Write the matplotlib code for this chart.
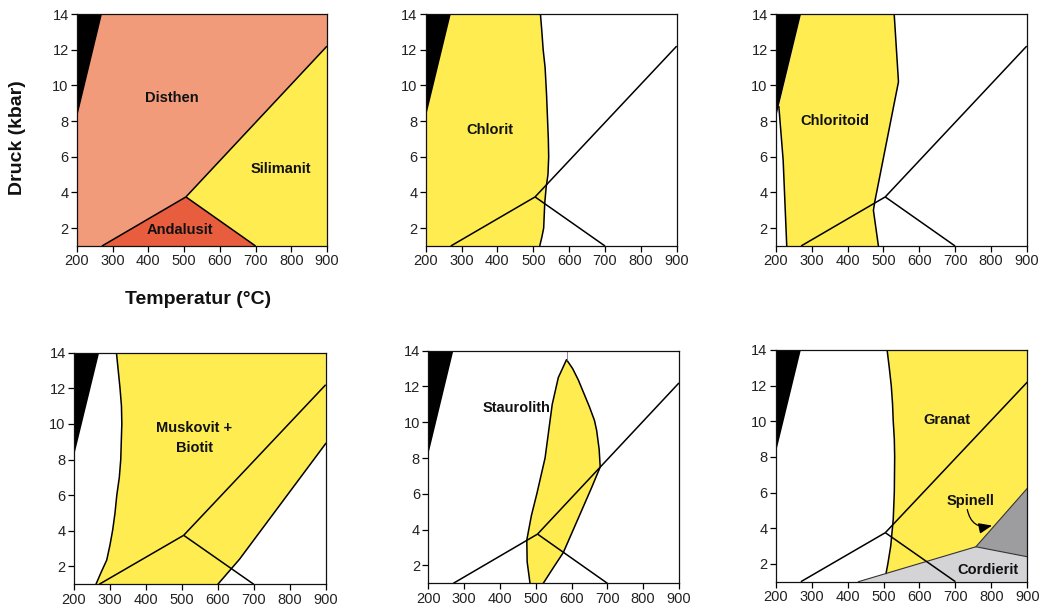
import matplotlib
matplotlib.use("Agg")
import matplotlib.pyplot as plt

plt.rcParams['font.family'] = ['Liberation Sans', 'DejaVu Sans']

# Axis ranges and ticks
T_RANGE = (200, 900)
P_RANGE = (1, 14)
T_TICKS = [200, 300, 400, 500, 600, 700, 800, 900]
P_TICKS = [2, 4, 6, 8, 10, 12, 14]

# Al2SiO5 triple point and reaction lines (T in °C, P in kbar)
AND_KY_T, AND_KY_P = [270, 505], [1.0, 3.75]
AND_SIL_T, AND_SIL_P = [505, 700], [3.75, 1.0]
KY_SIL_T, KY_SIL_P = [505, 900], [3.75, 12.2]

# Black field at low T / high P
BLACK_T = [200, 270, 200]
BLACK_P = [14, 14, 8.2]

# Panel 1: aluminosilicate fields
ANDALUSIT_T = [270, 505, 700]
ANDALUSIT_P = [1.0, 3.75, 1.0]
SILIMANIT_T = [505, 900, 900, 700]
SILIMANIT_P = [3.75, 12.2, 1.0, 1.0]

# Panel 2: chlorite upper stability boundary
CHLORIT_T = [520, 524, 527.6, 533, 537, 540, 542, 543, 541, 536, 532, 529, 524, 518]
CHLORIT_P = [14, 13, 12, 11, 9.5, 8, 7, 6, 5, 4.3, 3.4, 2, 1.5, 1]

# Panel 3: chloritoid field
CHLORITOID_LEFT_T = [230, 220, 208]
CHLORITOID_LEFT_P = [1, 5.8, 8.8]
CHLORITOID_RIGHT_T = [530, 542, 476, 472, 486]
CHLORITOID_RIGHT_P = [14, 10.2, 3.5, 3.0, 1]

# Panel 4: muscovite + biotite field
MUSBIO_LEFT_T = [261, 276, 291, 300, 307.6, 314, 319, 326, 330, 333, 332, 328, 318]
MUSBIO_LEFT_P = [1, 1.7, 2.36, 3.2, 4.05, 5, 6, 7, 8, 10, 11, 12, 14]
MUSBIO_RIGHT_T = [900, 660, 600]
MUSBIO_RIGHT_P = [8.9, 2.4, 1]

# Panel 5: staurolite lens
STAURO_LEFT_T = [484, 476, 475, 488, 503, 526, 546, 563, 586]
STAURO_LEFT_P = [1, 2.2, 3.42, 4.8, 6, 8, 11, 12.5, 13.5]
STAURO_RIGHT_T = [603, 619, 650, 664, 670, 677, 680, 655, 628, 577, 550, 521]
STAURO_RIGHT_P = [13.0, 12.36, 10.86, 10.1, 9.55, 8.5, 7.5, 6.3, 5.06, 2.72, 1.9, 1]
STAURO_TIP_T = [586, 586]
STAURO_TIP_P = [13.5, 14]

# Panel 6: garnet, spinel and cordierite fields
GRANAT_LEFT_T = [510, 516, 521.5, 525, 527, 530, 531, 530, 527, 520, 512, 507]
GRANAT_LEFT_P = [14, 13, 12, 11, 10, 9, 8, 6, 4.5, 3, 2, 1.47]
GRANAT_RIGHT_T = [757, 900, 900]
GRANAT_RIGHT_P = [2.96, 6.24, 14]
CORD_T = [430, 757, 900, 900]
CORD_P = [1, 2.96, 2.4, 1]
SPINELL_T = [757, 900, 900]
SPINELL_P = [2.96, 6.24, 2.4]

SALMON = '#F29B7B'
RED = '#E85D3D'
YELLOW = '#FEEC50'
LIGHTGRAY = '#D4D4D6'
DARKGRAY = '#9D9D9F'
LW = 1.1

W, H = 1042, 612
fig = plt.figure(figsize=(W / 100, H / 100), dpi=100)


def make_axes(left_px, top_px, right_px, bottom_px):
    ax = fig.add_axes([left_px / W, 1 - bottom_px / H,
                       (right_px - left_px) / W, (bottom_px - top_px) / H])
    ax.set_xlim(*T_RANGE)
    ax.set_ylim(*P_RANGE)
    ax.set_xticks(T_TICKS)
    ax.set_yticks(P_TICKS)
    ax.tick_params(direction='out', length=4, width=0.9, labelsize=10.5,
                   labelcolor='#222222', pad=2)
    for s in ax.spines.values():
        s.set_linewidth(0.9)
        s.set_color('#111111')
        s.set_zorder(6)
    return ax


def reaction_lines(ax):
    for t, p in ((AND_KY_T, AND_KY_P), (AND_SIL_T, AND_SIL_P), (KY_SIL_T, KY_SIL_P)):
        ax.plot(t, p, color='black', lw=LW, zorder=4, solid_capstyle='butt')


def black_field(ax):
    ax.fill(BLACK_T, BLACK_P, color='black', lw=0, zorder=5)


def label(ax, t, p, s):
    ax.text(t, p, s, ha='center', va='center', fontsize=10.5,
            fontweight='bold', color='#111111', zorder=7, linespacing=1.5)


# --- Panel 1: Disthen / Andalusit / Silimanit ---
ax1 = make_axes(77, 14, 327, 246)
ax1.set_facecolor(SALMON)
ax1.fill(SILIMANIT_T, SILIMANIT_P, color=YELLOW, lw=0, zorder=1)
ax1.fill(ANDALUSIT_T, ANDALUSIT_P, color=RED, lw=0, zorder=1)
reaction_lines(ax1)
black_field(ax1)
label(ax1, 465, 9.3, 'Disthen')
label(ax1, 771, 5.3, 'Silimanit')
label(ax1, 489, 1.87, 'Andalusit')

# --- Panel 2: Chlorit ---
ax2 = make_axes(425.7, 14, 676.7, 246)
ax2.fill([200, 200] + CHLORIT_T, [1, 14] + CHLORIT_P, color=YELLOW, lw=0, zorder=1)
ax2.plot(CHLORIT_T, CHLORIT_P, color='black', lw=LW, zorder=3)
reaction_lines(ax2)
black_field(ax2)
label(ax2, 380, 7.5, 'Chlorit')

# --- Panel 3: Chloritoid ---
ax3 = make_axes(776, 14, 1026.7, 246)
ax3.fill(CHLORITOID_LEFT_T + [270] + CHLORITOID_RIGHT_T,
         CHLORITOID_LEFT_P + [14] + CHLORITOID_RIGHT_P,
         color=YELLOW, lw=0, zorder=1)
ax3.plot(CHLORITOID_LEFT_T, CHLORITOID_LEFT_P, color='black', lw=LW, zorder=3)
ax3.plot(CHLORITOID_RIGHT_T, CHLORITOID_RIGHT_P, color='black', lw=LW, zorder=3)
reaction_lines(ax3)
black_field(ax3)
label(ax3, 365, 8.0, 'Chloritoid')

# --- Panel 4: Muskovit + Biotit ---
ax4 = make_axes(74, 352.7, 325.7, 584.3)
ax4.fill(MUSBIO_LEFT_T + [900] + MUSBIO_RIGHT_T,
         MUSBIO_LEFT_P + [14] + MUSBIO_RIGHT_P,
         color=YELLOW, lw=0, zorder=1)
ax4.plot(MUSBIO_LEFT_T, MUSBIO_LEFT_P, color='black', lw=LW, zorder=3)
ax4.plot(MUSBIO_RIGHT_T, MUSBIO_RIGHT_P, color='black', lw=LW, zorder=3)
reaction_lines(ax4)
black_field(ax4)
label(ax4, 534, 9.2, 'Muskovit +\nBiotit')

# --- Panel 5: Staurolith ---
ax5 = make_axes(428.3, 350.7, 679, 583.3)
ax5.fill(STAURO_LEFT_T + STAURO_RIGHT_T, STAURO_LEFT_P + STAURO_RIGHT_P,
         color=YELLOW, lw=0, zorder=1)
ax5.plot(STAURO_LEFT_T + STAURO_RIGHT_T, STAURO_LEFT_P + STAURO_RIGHT_P,
         color='black', lw=LW, zorder=3)
ax5.plot(STAURO_TIP_T, STAURO_TIP_P, color='#777777', lw=0.6, zorder=3)
reaction_lines(ax5)
black_field(ax5)
label(ax5, 447, 10.8, 'Staurolith')

# --- Panel 6: Granat / Spinell / Cordierit ---
ax6 = make_axes(775.7, 350, 1027.3, 581.7)
ax6.fill(GRANAT_LEFT_T + GRANAT_RIGHT_T, GRANAT_LEFT_P + GRANAT_RIGHT_P,
         color=YELLOW, lw=0, zorder=1)
ax6.fill(CORD_T, CORD_P, color=LIGHTGRAY, lw=0, zorder=1)
ax6.fill(SPINELL_T, SPINELL_P, color=DARKGRAY, lw=0, zorder=1)
ax6.plot(GRANAT_LEFT_T, GRANAT_LEFT_P, color='black', lw=LW, zorder=3)
ax6.plot(CORD_T[:3], CORD_P[:3], color='#333333', lw=0.8, zorder=3)
ax6.plot(SPINELL_T[:2], SPINELL_P[:2], color='#333333', lw=0.8, zorder=3)
reaction_lines(ax6)
black_field(ax6)
label(ax6, 675, 10.1, 'Granat')
label(ax6, 743, 5.55, 'Spinell')
label(ax6, 790, 1.66, 'Cordierit')
ax6.annotate('', xy=(802, 4.15), xytext=(733, 5.05),
             arrowprops=dict(arrowstyle='-|>,head_length=0.8,head_width=0.32',
                             connectionstyle='arc3,rad=0.5',
                             color='black', lw=0.9, shrinkA=0, shrinkB=0),
             zorder=7)

# Axis titles (first panel only)
fig.text(18 / W, 1 - 138 / H, 'Druck (kbar)', rotation=90, ha='center',
         va='center', fontsize=14, fontweight='bold', color='#111111')
fig.text(198 / W, 1 - 299 / H, 'Temperatur (°C)', ha='center', va='center',
         fontsize=14, fontweight='bold', color='#111111')

fig.savefig('out.png', dpi=100)
